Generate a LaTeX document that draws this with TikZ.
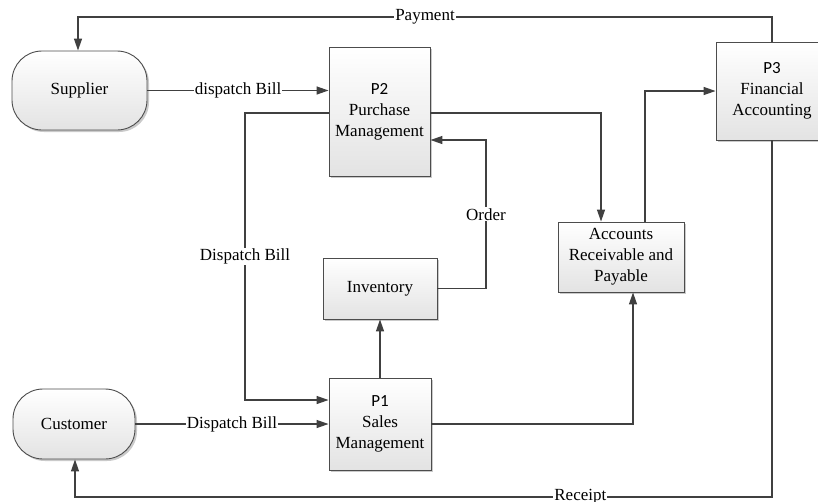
\documentclass[tikz,border=0pt]{standalone}
\usepackage{fontspec}
\setmainfont{Liberation Serif}
\newfontfamily\pfont{Carlito}
\usetikzlibrary{arrows.meta,shadows}

\begin{document}
\begin{tikzpicture}[x=1pt,y=-1pt,
  every node/.style={font=\fontsize{17}{21}\selectfont},
  boxbase/.style={draw=black!70, line width=0.9pt, top color=white, bottom color=black!11,
    drop shadow={shadow xshift=2pt,shadow yshift=-2pt,fill=black!35,opacity=0.6},
    align=center, inner sep=0pt},
  proc/.style={boxbase},
  ent/.style={boxbase, rounded corners=30pt},
  flow/.style={draw=black!75, line width=1.3pt, -{Triangle[length=12pt,width=8pt]}},
  lbl/.style={fill=white, inner sep=1pt}
]
\useasboundingbox (0,0) rectangle (818,501);

% nodes
\node[ent, minimum width=135pt, minimum height=79pt] (sup) at (79.5,90.5) {Supplier};
\node[ent, minimum width=122pt, minimum height=70pt] (cus) at (74,424) {Customer};
\node[proc, minimum width=101pt, minimum height=129pt] (p2) at (379.5,111.5) {{\pfont P2}\\Purchase\\Management};
\node[proc, minimum width=112pt, minimum height=98pt] (p3) at (772,91) {{\pfont P3}\\Financial\\Accounting};
\node[proc, minimum width=126pt, minimum height=70pt] (acc) at (621,257) {Accounts\\Receivable and\\Payable};
\node[proc, minimum width=114pt, minimum height=61pt] (inv) at (380,288.5) {Inventory};
\node[proc, minimum width=102pt, minimum height=92pt] (p1) at (380,424) {{\pfont P1}\\Sales\\Management};

% coordinates
\coordinate (payR) at (772,17);
\coordinate (payL) at (78,17);
\coordinate (d1) at (245,113);
\coordinate (d2) at (245,400);
\coordinate (o1) at (486,288.5);
\coordinate (o2) at (486,140);
\coordinate (a1) at (601,113);
\coordinate (f1) at (645,91);
\coordinate (s1) at (633,424);
\coordinate (r1) at (772,497);
\coordinate (r2) at (75,497);

% connectors
\draw[flow] (p3.north) -- (payR) -- node[lbl]{Payment} (payL) -- (payL |- sup.north);
\draw[flow] (sup.east) -- node[lbl]{dispatch Bill} (p2.west |- sup.east);
\draw[flow] (p2.west |- d1) -- (d1) -- node[lbl]{Dispatch Bill} (d2) -- (p1.west |- d2);
\draw[flow] (cus.east) -- node[lbl]{Dispatch Bill} (p1.west |- cus.east);
\draw[flow] (p1.north) -- (inv.south);
\draw[flow] (inv.east) -- (o1) -- node[lbl]{Order} (o2) -- (p2.east |- o2);
\draw[flow] (p2.east |- a1) -- (a1) -- (a1 |- acc.north);
\draw[flow] (f1 |- acc.north) -- (f1) -- (p3.west |- f1);
\draw[flow] (p1.east |- s1) -- (s1) -- (s1 |- acc.south);
\draw[flow] (p3.south) -- (r1) -- node[lbl,pos=0.275]{Receipt} (r2) -- (r2 |- cus.south);
\end{tikzpicture}
\end{document}
